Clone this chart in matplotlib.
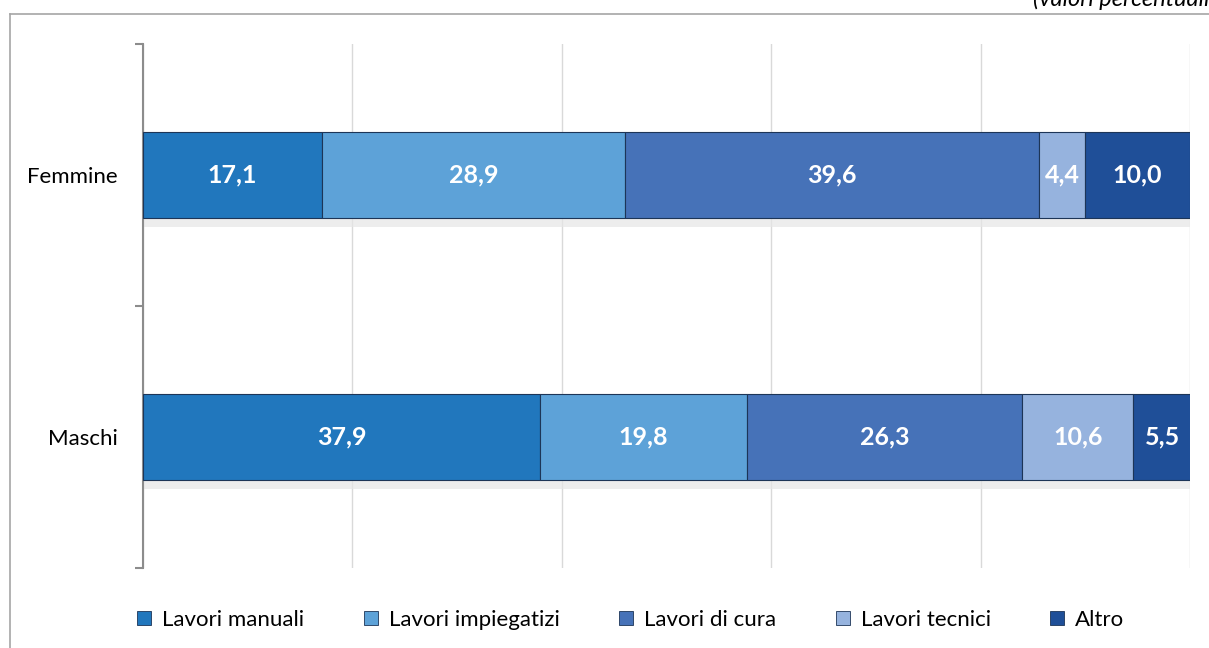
import matplotlib.pyplot as plt
import numpy as np
from matplotlib.lines import Line2D
from matplotlib.patches import Rectangle

plt.rcParams['font.family'] = ['Lato', 'DejaVu Sans']

# dati (valori percentuali)
categorie = ["Maschi", "Femmine"]
serie = ["Lavori manuali", "Lavori impiegatizi", "Lavori di cura", "Lavori tecnici", "Altro"]
lavori_manuali = [37.9, 17.1]
lavori_impiegatizi = [19.8, 28.9]
lavori_cura = [26.3, 39.6]
lavori_tecnici = [10.6, 4.4]
altro = [5.5, 10.0]
valori = [lavori_manuali, lavori_impiegatizi, lavori_cura, lavori_tecnici, altro]
colori = ["#2177bd", "#5da2d8", "#4672b8", "#96b3de", "#1f4f98"]

fig = plt.figure(figsize=(12.09, 6.48), dpi=100)
ax = fig.add_axes([143 / 1209, 1 - 568 / 648, 1047 / 1209, 524 / 648])

y = np.arange(len(categorie))
h = 0.325
left = np.zeros(len(categorie))
for nome, vals, col in zip(serie, valori, colori):
    vals = np.array(vals)
    # ombra leggera sotto la barra
    for yi, l, v in zip(y, left, vals):
        ax.add_patch(Rectangle((l, yi - h / 2 - 0.035), v, 0.035, color="#e6e6e6",
                               alpha=0.7, lw=0, zorder=1))
    ax.barh(y, vals, left=left, height=h, color=col, edgecolor="#1d3557",
            linewidth=0.8, zorder=3, label=nome)
    for yi, l, v in zip(y, left, vals):
        ax.text(l + v / 2, yi, f"{v:.1f}".replace(".", ","), ha="center", va="center",
                color="white", fontsize=18, fontweight="bold", zorder=4)
    left += vals

ax.set_xlim(0, 100)
ax.set_ylim(-0.5, 1.5)
ax.set_xticks([0, 20, 40, 60, 80, 100])
ax.xaxis.grid(True, color="#d9d9d9", lw=1)
ax.set_axisbelow(True)
ax.tick_params(axis="x", length=0, labelbottom=False)

ax.set_yticks(y)
ax.set_yticklabels(categorie, fontsize=16)
ax.tick_params(axis="y", length=0, pad=18)
ax.set_yticks([-0.5, 0.5, 1.5], minor=True)
ax.tick_params(axis="y", which="minor", length=6, color="#8c8c8c", width=1.5)

for s in ["top", "right", "bottom"]:
    ax.spines[s].set_visible(False)
ax.spines["left"].set_color("#8c8c8c")
ax.spines["left"].set_linewidth(1.5)

handles = [Line2D([0], [0], marker="s", ls="", markersize=10, markerfacecolor=c,
                  markeredgecolor="#1d3557", markeredgewidth=0.6) for c in colori]
fig.legend(handles, serie, loc="center", bbox_to_anchor=(0.521, 1 - 620 / 648),
           ncol=5, frameon=False, fontsize=16, handlelength=0.8, handletextpad=0.4,
           columnspacing=2.6)

# cornice
fig.add_artist(Line2D([10 / 1209, 1], [1 - 14 / 648, 1 - 14 / 648], color="#a6a6a6", lw=1.2))
fig.add_artist(Line2D([10 / 1209, 10 / 1209], [1 - 14 / 648, 0], color="#a6a6a6", lw=1.2))

fig.text(1033 / 1209, 1 - 6 / 648, "(valori percentuali)", fontsize=17, style="italic",
         ha="left", va="baseline")

fig.savefig("out.png", dpi=100)
